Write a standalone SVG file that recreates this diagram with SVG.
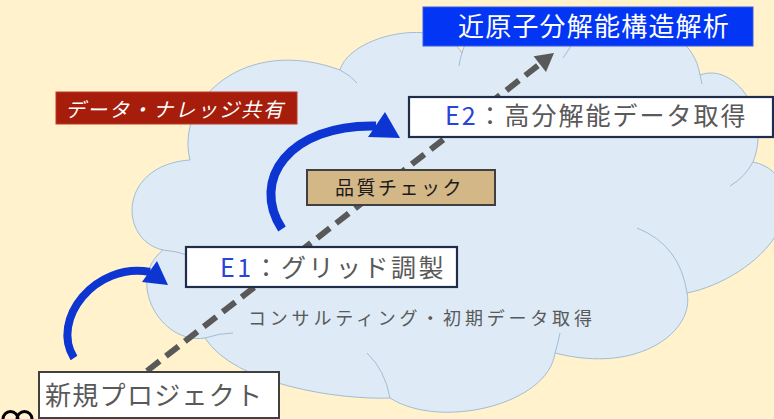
<svg xmlns="http://www.w3.org/2000/svg" width="774" height="419" viewBox="0 0 774 419">
<defs>
<style>
.jp{font-family:"Noto Sans CJK JP","Noto Sans",sans-serif}
.box{fill:#ffffff;stroke:#1f2d4a;stroke-width:2.2}
.gbox{fill:#ffffff;stroke:#404040;stroke-width:2}
.gray{fill:#595959}
.eb{fill:#2a44d8}
.inner{fill:none;stroke:#a3bcd3;stroke-width:1}
.barrow{fill:none;stroke:#0c35d2;stroke-linecap:butt}
.bhead{fill:#0c35d2}
</style>
</defs>
<rect x="0" y="0" width="774" height="419" fill="#fff2cc"/>

<g id="cloud">
<path d="M190,160 C175,100 245,35 340,70 C350,35 440,15 462,53 C470,15 560,10 570,45 C585,10 690,10 700,75 C735,62 772,115 753,162 C785,168 797,205 776,235 C760,262 722,286 687,293 C695,330 640,375 555,353 C548,405 440,430 390,398 C340,400 235,385 205,338 C160,345 125,280 163,250 C118,240 118,165 190,160 Z" fill="#deebf7" stroke="#a3bcd3" stroke-width="1"/>
<path class="inner" d="M340,70 Q350,75 357,83"/>
<path class="inner" d="M462,53 Q460,59 459,66"/>
<path class="inner" d="M571,46 Q567,52 563,58"/>
<path class="inner" d="M700,75 Q701,79 702,84"/>
<path class="inner" d="M753,162 Q745,177 730,186"/>
<path class="inner" d="M687,293 Q680,245 637,228"/>
<path class="inner" d="M555,353 Q558,343 560,333"/>
<path class="inner" d="M390,398 Q385,370 367,353"/>
<path class="inner" d="M205,338 Q220,333 233,333"/>
<path class="inner" d="M163,250 Q176,251 187,255"/>
</g>

<g id="connectors">
<line x1="147" y1="371" x2="540" y2="64" stroke="#595959" stroke-width="6" stroke-dasharray="16 8"/>
<polygon points="554,53 546,72 533.6,56.2" fill="#595959"/>
<path class="barrow" stroke-width="8" d="M74,358 C50,320 95,262 150,272"/>
<polygon class="bhead" points="157,261 168,285 142,282"/>
<path class="barrow" stroke-width="9" d="M282,229 C250,180 289,124 376,126"/>
<polygon class="bhead" points="385,112 400,138 368,137"/>
</g>

<g id="node-title">
<rect x="423" y="7" width="330" height="39" fill="#0335f5" stroke="#3a5be0" stroke-width="1"/>
<text class="jp" x="458" y="35.5" font-size="26" letter-spacing="1.2" fill="#ffffff">近原子分解能構造解析</text>
</g>

<g id="node-share">
<rect x="56" y="92" width="241" height="32" fill="#a61d0b" stroke="#c0392b" stroke-width="1"/>
<text class="jp" x="65" y="117" font-size="20" letter-spacing="2" font-style="italic" fill="#ffffff">データ・ナレッジ共有</text>
</g>

<g id="node-e2">
<rect class="box" x="409" y="97" width="364" height="40"/>
<text class="jp" x="445" y="125" font-size="25" letter-spacing="2"><tspan class="eb">E2</tspan><tspan class="gray">：高分解能データ取得</tspan></text>
</g>

<g id="node-qc">
<rect x="307" y="170" width="188" height="35" fill="#d4b787" stroke="#404040" stroke-width="2"/>
<text class="jp" x="335" y="195" font-size="19" letter-spacing="2.5" fill="#1a1a1a">品質チェック</text>
</g>

<g id="node-e1">
<rect class="box" x="186" y="247" width="271" height="40"/>
<text class="jp" x="220" y="277" font-size="25" letter-spacing="2.5"><tspan class="eb">E1</tspan><tspan class="gray">：グリッド調製</tspan></text>
</g>

<g id="label-consult">
<text class="jp gray" x="248" y="325" font-size="18" letter-spacing="3.8">コンサルティング・初期データ取得</text>
</g>

<g id="node-new">
<rect class="gbox" x="39" y="372" width="240" height="46"/>
<text class="jp gray" x="45" y="405" font-size="26" letter-spacing="1.3">新規プロジェクト</text>
</g>

<g id="fragment">
<path d="M3,419 A7.5,7.5 0 0 1 18,419 M17,419 A7.5,7.5 0 0 1 32,419" fill="none" stroke="#000000" stroke-width="3"/>
</g>
</svg>
